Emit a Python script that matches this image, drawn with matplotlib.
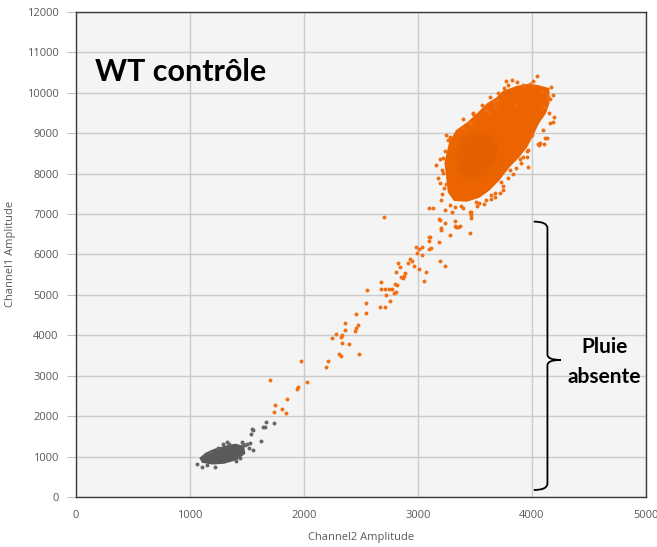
import matplotlib.pyplot as plt
from matplotlib.path import Path
from matplotlib.patches import PathPatch

# Orange droplets scattered between the two clusters ("rain")
rain_x = [2704, 3135, 3202, 3187, 3102, 3102, 2982, 3009, 3041, 2991, 3038, 3120, 3099,
          2930, 2950, 2915, 2828, 2848, 2965, 3009, 3073, 3196, 3237, 2813, 2889, 2883,
          2851, 2868, 2673, 3055, 2798, 2821, 2748, 2772, 2713, 2678, 2553, 2795, 2807,
          2725, 2760, 2544, 2667, 2708, 2547, 2459, 2363, 2477, 2462, 2450, 2357, 2278,
          2248, 2339, 2330, 2339, 2398, 2310, 2325, 2480, 2211, 2193, 1974, 2029, 1950,
          1939, 1848, 1702, 1749, 1810, 1739, 1839]
rain_y = [6920, 7142, 6598, 6317, 6432, 6326, 6193, 6128, 6193, 6030, 5995, 6168, 6128,
          5887, 5838, 5780, 5780, 5681, 5723, 5649, 5566, 5838, 5714, 5566, 5550, 5475,
          5435, 5410, 5319, 5336, 5262, 5254, 5155, 5147, 5139, 5147, 5122, 5056, 5072,
          4998, 4842, 4792, 4710, 4710, 4561, 4536, 4313, 4264, 4190, 4115, 4124, 4025,
          3934, 4000, 3951, 3819, 3778, 3530, 3481, 3547, 3373, 3208, 3357, 2838, 2714,
          2672, 2417, 2895, 2284, 2170, 2110, 2078]

# Loose droplets around the edge of the orange cluster
orange_x = [4050, 3792, 4173, 3930, 4187, 4099, 4120, 4055, 3962, 3968, 3866, 3719, 3647,
            3602, 3515, 3281, 3208, 3099, 3178, 3164, 3193, 3222, 3281, 3471, 3485, 3602,
            3667, 3456, 3471, 3325, 3354, 3237, 3193, 3281, 3456, 3105, 3325, 3368, 3237,
            3187, 3465, 3465, 3339, 3208, 3199, 3222, 3754, 4187, 4158, 4152, 4193, 4164,
            4135, 4070, 3924, 3982, 4108, 4064, 3968, 3910, 3924, 3959, 3749, 3675, 3734,
            3807, 4010, 4090, 3860, 3700, 3630, 3560, 3400, 3380, 3250, 3300,
            3485, 3588, 3617, 3456, 3398, 3281, 3266, 3675, 3696, 3750, 3790, 3680, 3580,
            3520, 3400, 3330, 3210, 3230, 3215, 3240, 3250, 3900, 3840, 4000, 4110, 4140,
            3770, 3830, 3870, 3640, 3540]
orange_y = [10416, 10193, 10136, 10168, 9285, 9080, 8874, 8733, 8420, 8585, 8132, 7513, 7472,
            7348, 7306, 7224, 7348, 7142, 7884, 8214, 8354, 8379, 8874, 9245, 9468, 9574,
            9780, 7059, 6977, 6836, 6688, 6771, 6853, 6482, 6524, 6440, 6705, 6705, 7100,
            6870, 7059, 6895, 6688, 6647, 7760, 8008, 10111, 9946, 9839, 9508, 9409, 9260,
            8874, 8766, 10193, 10218, 8733, 8709, 8172, 8271, 8420, 8568, 7595, 7513, 7801,
            8090, 10300, 10050, 9700, 10000, 9900, 9700, 9350, 7200, 7750, 7050,
            9493, 9574, 9533, 9245, 9120, 8915, 8832, 9656, 9822, 7700, 7900, 7420, 7250,
            7200, 7150, 7180, 7500, 7650, 8100, 8550, 8950, 8350, 8000, 8950, 9650, 9900,
            10280, 10320, 10260, 7380, 7280]

# Outline of the dense orange cluster
orange_body_x = [4041, 4150, 4150, 4120, 4060, 4000, 3955, 3885, 3800, 3712, 3625, 3540,
                 3430, 3320, 3270, 3255, 3240, 3280, 3340, 3440, 3525, 3610, 3695, 3750,
                 3870, 3960]
orange_body_y = [10180, 10100, 9740, 9500, 9253, 8907, 8659, 8412, 8165, 7843, 7595, 7420,
                 7320, 7340, 7540, 7917, 8263, 8758, 9060, 9260, 9480, 9720, 9870, 10030,
                 10150, 10200]

# Slightly darker core of the orange cluster
orange_core_x = [3360, 3450, 3590, 3680, 3700, 3640, 3520, 3410, 3340]
orange_core_y = [8050, 7850, 7980, 8300, 8680, 8950, 9020, 8870, 8500]

# Outline of the grey (negative) cluster
gray_body_x = [1090, 1110, 1200, 1300, 1410, 1480, 1470, 1400, 1320, 1220, 1140]
gray_body_y = [960, 860, 820, 840, 930, 1080, 1250, 1300, 1260, 1180, 1080]

# Loose grey droplets
gray_x = [1058, 1102, 1219, 1520, 1526, 1482, 1439, 1292, 1322, 1453, 1667, 1737, 1637,
          1658, 1541, 1550, 1538, 1623, 1503, 1550, 1462, 1180, 1250, 1400, 1150, 1340]
gray_y = [809, 750, 750, 1204, 1328, 1287, 972, 1304, 1353, 1369, 1848, 1838, 1739,
          1724, 1675, 1650, 1559, 1393, 1304, 1163, 1304, 1120, 1200, 880, 790, 1310]

xticks = [0, 1000, 2000, 3000, 4000, 5000]
yticks = list(range(0, 12001, 1000))

fig = plt.figure(figsize=(6.57, 5.47), dpi=100)
ax = fig.add_axes([0.1157, 0.0914, 0.867, 0.887])
ax.set_facecolor('#f4f4f4')

ax.set_xlim(0, 5000)
ax.set_ylim(0, 12000)
ax.set_xticks(xticks)
ax.set_yticks(yticks)
ax.grid(True, color='#cbcbcb', linewidth=1)
ax.set_axisbelow(True)

for side in ['left', 'bottom', 'top', 'right']:
    ax.spines[side].set_color('#3a3a3a')
    ax.spines[side].set_linewidth(1)

ax.tick_params(axis='y', length=6.5, color='#c0c0c0', pad=6, labelsize=8, labelcolor='#595959')
ax.tick_params(axis='x', length=0, pad=9, labelsize=8, labelcolor='#595959')
for lab in ax.get_xticklabels() + ax.get_yticklabels():
    lab.set_family('Open Sans')

ax.set_xlabel('Channel2 Amplitude', fontsize=8, color='#595959', family='Open Sans', labelpad=8)
ax.set_ylabel('Channel1 Amplitude', fontsize=8, color='#595959', family='Open Sans', labelpad=8)

# clusters
ax.fill(gray_body_x, gray_body_y, color='#5a5a5a', zorder=3)
ax.scatter(gray_x, gray_y, s=8, color='#666666', linewidths=0, zorder=3)
ax.fill(orange_body_x, orange_body_y, color='#ec6400', zorder=3)
ax.fill(orange_core_x, orange_core_y, color='#e46000', zorder=3)
ax.scatter(orange_x, orange_y, s=8, color='#f06e12', linewidths=0, zorder=3)
ax.scatter(rain_x, rain_y, s=8, color='#f26f14', linewidths=0, zorder=3)

ax.text(170, 10520, 'WT contrôle', fontsize=22, fontweight='bold', family='Lato',
        va='center', ha='left', color='black')

# curly brace
verts = [(4018, 6811), (4138, 6811), (4138, 6650),
         (4138, 3520),
         (4138, 3390), (4254, 3390),
         (4138, 3390), (4138, 3260),
         (4138, 330),
         (4138, 173), (4018, 173)]
codes = [Path.MOVETO, Path.CURVE3, Path.CURVE3,
         Path.LINETO,
         Path.CURVE3, Path.CURVE3,
         Path.CURVE3, Path.CURVE3,
         Path.LINETO,
         Path.CURVE3, Path.CURVE3]
ax.add_patch(PathPatch(Path(verts, codes), facecolor='none', edgecolor='black',
                       linewidth=1.3, zorder=4, clip_on=False))
ax.text(4640, 3700, 'Pluie', fontsize=15, fontweight='bold', family='Lato', ha='center', va='center')
ax.text(4640, 2960, 'absente', fontsize=15, fontweight='bold', family='Lato', ha='center', va='center')

plt.savefig('out.png', dpi=100)
